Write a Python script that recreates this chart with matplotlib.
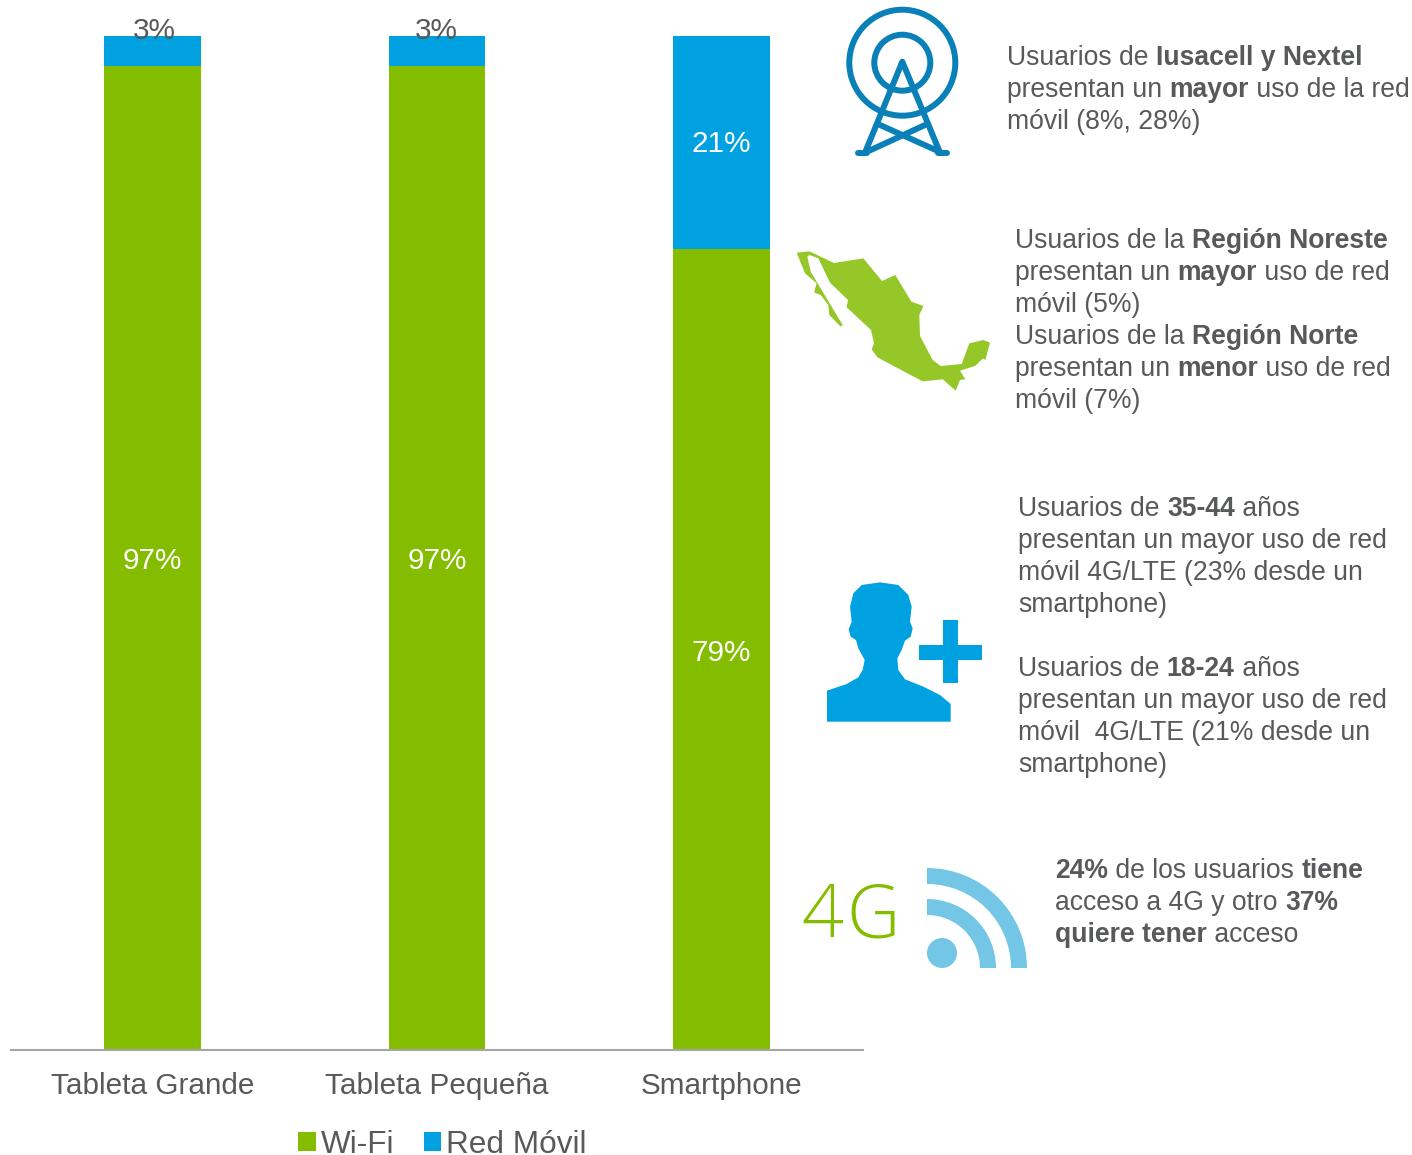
import matplotlib
matplotlib.use('Agg')
import matplotlib.pyplot as plt
from matplotlib.patches import Polygon, Circle, Wedge, Rectangle

categories = ['Tableta Grande', 'Tableta Pequeña', 'Smartphone']
wifi = [97, 97, 79]
movil = [3, 3, 21]

GREEN = '#84BD00'
BLUE = '#00A1E0'
GREY = '#58595B'

blocks = [
	(1007, 65, ['Usuarios de **Iusacell y Nextel**',
		'presentan un **mayor** uso de la red',
		'móvil (8%, 28%)']),
	(1015, 248, ['Usuarios de la **Región Noreste**',
		'presentan un **mayor** uso de red',
		'móvil (5%)',
		'Usuarios de la **Región Norte**',
		'presentan un **menor** uso de red',
		'móvil (7%)']),
	(1018, 516, ['Usuarios de **35-44** años',
		'presentan un mayor uso de red',
		'móvil 4G/LTE (23% desde un',
		'smartphone)',
		'',
		'Usuarios de **18-24** años',
		'presentan un mayor uso de red',
		'móvil  4G/LTE (21% desde un',
		'smartphone)']),
	(1055, 878, ['**24%** de los usuarios **tiene**',
		'acceso a 4G y otro **37%**',
		'**quiere tener** acceso']),
]

# icon outlines, in image pixels measured from zoomed crops
map_outline = [(20, 758), (58, 754), (132, 789), (220, 775), (276, 843), (316, 825),
	(364, 905), (400, 918), (388, 945), (390, 1008), (428, 1080), (452, 1098),
	(515, 1092), (538, 1030), (580, 1020), (600, 1028), (586, 1080), (578, 1076),
	(555, 1098), (510, 1112), (526, 1138), (510, 1140), (497, 1172), (458, 1138),
	(398, 1144), (262, 1072), (245, 1048), (252, 1030), (243, 990), (170, 922),
	(174, 900), (120, 848), (85, 775), (58, 765), (52, 770), (62, 815), (158, 975),
	(152, 980), (118, 945), (115, 915), (92, 885), (72, 877), (80, 850), (45, 820)]
person_outline = [(111, 455), (111, 362), (170, 342), (205, 322), (218, 300), (224, 270),
	(205, 235), (198, 210), (182, 200), (176, 178), (185, 155), (180, 110), (190, 70),
	(215, 45), (270, 37), (325, 45), (355, 75), (365, 110), (360, 155), (368, 175),
	(362, 200), (345, 212), (335, 240), (322, 265), (325, 300), (345, 328), (400, 350),
	(450, 375), (482, 402), (482, 455)]


def crop(points, x0, y0):
	return [(x0 + x / 3, y0 + y / 3) for x, y in points]


def text_width(ax, s, **kw):
	# the bar keeps trailing spaces in the measure
	r = ax.figure.canvas.get_renderer()
	a = ax.text(0, 0, s + '|', **kw)
	b = ax.text(0, 0, '|', **kw)
	w = a.get_window_extent(r).width - b.get_window_extent(r).width
	a.remove()
	b.remove()
	return w


def draw_block(ax, x, y, lines, pitch=32):
	for i, line in enumerate(lines):
		cx = x
		for j, part in enumerate(line.split('**')):
			if not part:
				continue
			kw = dict(fontsize=19.1, color=GREY, fontweight='bold' if j % 2 else 'normal')
			ax.text(cx, y + i * pitch, part, va='baseline', ha='left', **kw)
			cx += text_width(ax, part, **kw)


def draw_icons(ax):
	# antenna
	c = '#0A80B8'
	cx, cy = 902.3, 62.7
	ax.add_patch(Circle((cx, cy), 53, fill=False, ec=c, lw=4.3))
	ax.add_patch(Circle((cx, cy), 28, fill=False, ec=c, lw=4.3))
	segs = [[(225, 458), (337, 185), (450, 458)], [(270, 375), (455, 458)],
		[(405, 375), (225, 458)], [(205, 458), (232, 458)], [(443, 458), (470, 458)]]
	for seg in segs:
		pts = crop(seg, 790, 0)
		ax.plot([p[0] for p in pts], [p[1] for p in pts], color=c, lw=4.3,
			solid_capstyle='round', solid_joinstyle='round')

	ax.add_patch(Polygon(crop(map_outline, 790, 0), closed=True, fc='#96C728', ec='none'))

	ax.add_patch(Polygon(crop(person_outline, 790, 570), closed=True, fc=BLUE, ec='none'))
	ax.add_patch(Rectangle((943, 620), 15, 63, fc=BLUE, ec='none'))
	ax.add_patch(Rectangle((919, 645), 63, 15, fc=BLUE, ec='none'))

	# the two glyphs sit further apart in the original
	kw = dict(fontsize=53, color=GREEN, family='Open Sans', fontweight='light', va='baseline', ha='left')
	ax.text(801, 937, '4', **kw)
	ax.text(846, 937, 'G', **kw)
	w = '#73C6E5'
	ax.add_patch(Wedge((927, 968), 100, 270, 360, width=16, fc=w, ec='none'))
	ax.add_patch(Wedge((927, 968), 69, 270, 360, width=16, fc=w, ec='none'))
	ax.add_patch(Circle((942, 953), 15, fc=w, ec='none'))


def main():
	plt.rcParams['font.family'] = 'Liberation Sans'
	fig = plt.figure(figsize=(14.12, 11.55), dpi=100)
	ax = fig.add_axes([10.5 / 1412, 1 - 1050 / 1155, 853 / 1412, 1014 / 1155])

	x = range(len(categories))
	b1 = ax.bar(x, wifi, width=0.341, color=GREEN, label='Wi-Fi')
	b2 = ax.bar(x, movil, width=0.341, bottom=wifi, color=BLUE, label='Red Móvil')
	ax.set_xlim(-0.5, 2.5)
	ax.set_ylim(0, 100)
	ax.set_yticks([])
	ax.set_xticks(list(x), categories, fontsize=21.4, color=GREY)
	ax.tick_params(axis='x', length=0, pad=16)
	for s in ['top', 'left', 'right']:
		ax.spines[s].set_visible(False)
	ax.spines['bottom'].set_color('#A6A6A6')
	ax.spines['bottom'].set_linewidth(1.5)

	for i in x:
		ax.text(i, wifi[i] / 2 - 0.3, '%d%%' % wifi[i], color='white', fontsize=21.4, ha='center', va='center')
		if movil[i] > 5:
			ax.text(i, wifi[i] + movil[i] / 2 - 0.2, '%d%%' % movil[i], color='white', fontsize=21.4,
				ha='center', va='center')
		else:
			ax.text(i + (0.005 if i == 0 else -0.002), 100.47, '%d%%' % movil[i], color=GREY, fontsize=21.4,
				ha='center', va='center', clip_on=False)

	fig.legend(handles=[b1, b2], loc='lower left', bbox_to_anchor=(270 / 1412, -33 / 1155), ncol=2,
		frameon=False, fontsize=22.7, labelcolor=GREY, handlelength=0.55, handleheight=0.55,
		handletextpad=0.15, columnspacing=0.95)

	ov = fig.add_axes([0, 0, 1, 1], zorder=5)
	ov.set_xlim(0, 1412)
	ov.set_ylim(1155, 0)
	ov.axis('off')
	ov.patch.set_alpha(0)
	draw_icons(ov)
	for bx, by, lines in blocks:
		draw_block(ov, bx, by, lines)

	fig.savefig('out.png', dpi=100)


if __name__ == '__main__':
	main()
